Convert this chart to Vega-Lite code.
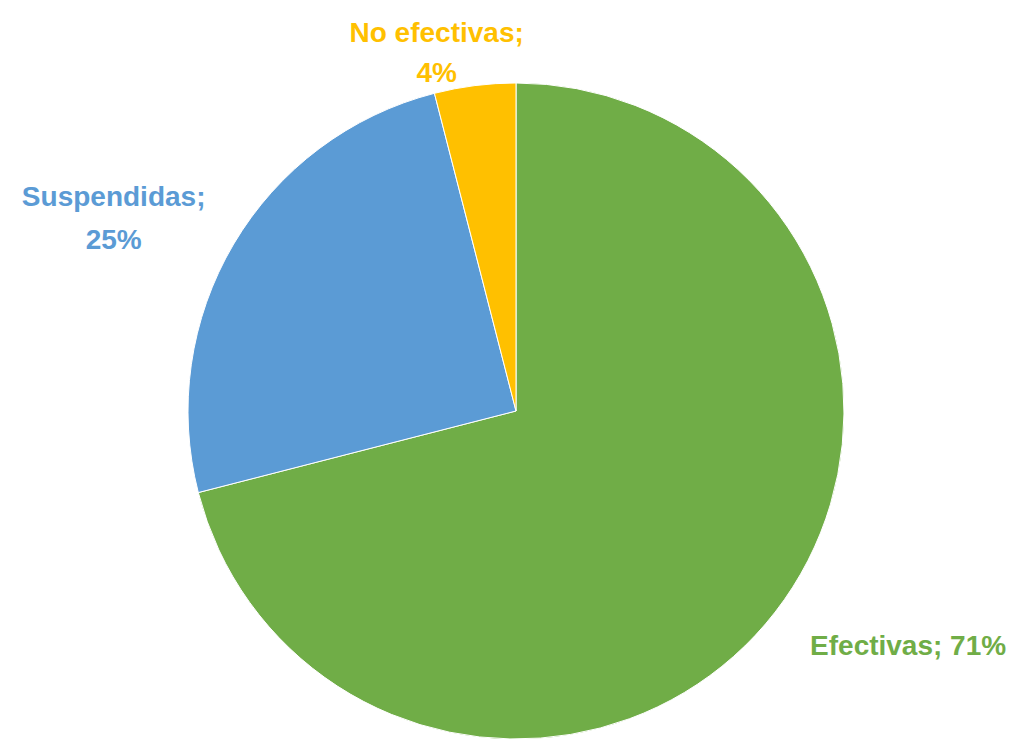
{
  "$schema": "https://vega.github.io/schema/vega-lite/v6.json",
  "autosize": {"type": "none"},
  "width": 656,
  "height": 656,
  "padding": {"left": 188, "top": 83, "right": 172, "bottom": 6},
  "background": "white",
  "view": {"stroke": null},
  "data": {
    "values": [
      {"categoria": "Efectivas", "pct": 71, "orden": 1, "etiqueta": "Efectivas; 71%"},
      {"categoria": "Suspendidas", "pct": 25, "orden": 2, "etiqueta": "Suspendidas;\n25%"},
      {"categoria": "No efectivas", "pct": 4, "orden": 3, "etiqueta": "No efectivas;\n4%"}
    ]
  },
  "encoding": {
    "theta": {"field": "pct", "type": "quantitative", "stack": true},
    "order": {"field": "orden", "type": "quantitative"},
    "color": {
      "field": "categoria",
      "type": "nominal",
      "scale": {
        "domain": ["Efectivas", "Suspendidas", "No efectivas"],
        "range": ["#70AD47", "#5B9BD5", "#FFC000"]
      },
      "legend": null
    }
  },
  "layer": [
    {
      "mark": {"type": "arc", "outerRadius": 328, "stroke": "white", "strokeWidth": 1}
    },
    {
      "mark": {"type": "text", "radius": 457, "dx": 31, "dy": -44, "font": "Liberation Sans", "fontWeight": "bold", "fontSize": 28, "align": "center", "baseline": "middle", "lineBreak": "\n"},
      "encoding": {"text": {"condition": {"test": "datum.categoria === 'Efectivas'", "field": "etiqueta"}, "value": ""}}
    },
    {
      "mark": {"type": "text", "radius": 450, "dx": -15, "dy": 16, "font": "Liberation Sans", "fontWeight": "bold", "fontSize": 28, "align": "center", "baseline": "middle", "lineBreak": "\n", "lineHeight": 43},
      "encoding": {"text": {"condition": {"test": "datum.categoria === 'Suspendidas'", "field": "etiqueta"}, "value": ""}}
    },
    {
      "mark": {"type": "text", "radius": 362, "dx": -34, "dy": -18, "font": "Liberation Sans", "fontWeight": "bold", "fontSize": 28, "align": "center", "baseline": "middle", "lineBreak": "\n", "lineHeight": 40},
      "encoding": {"text": {"condition": {"test": "datum.categoria === 'No efectivas'", "field": "etiqueta"}, "value": ""}}
    }
  ]
}
